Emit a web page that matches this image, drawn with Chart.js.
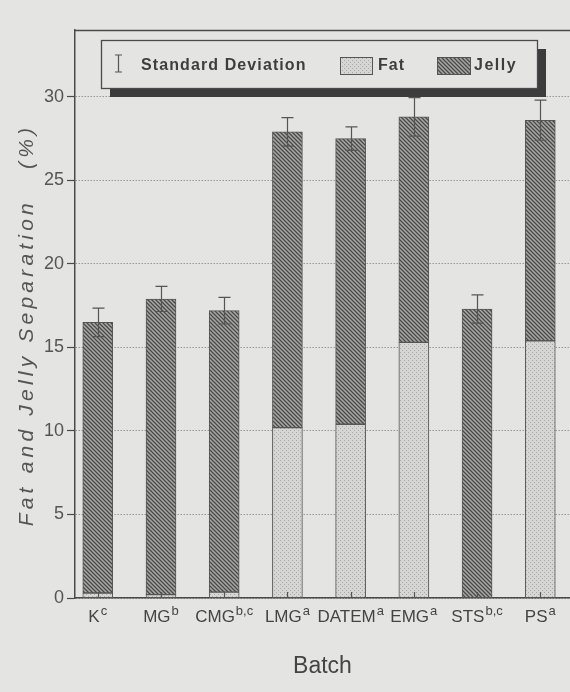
<!DOCTYPE html>
<html>
<head>
<meta charset="utf-8">
<script src="https://cdn.jsdelivr.net/npm/chart.js@4.4.1/dist/chart.umd.min.js"></script>
<style>
  html, body { margin: 0; padding: 0; background: #e4e4e2; }
  #wrap { width: 570px; height: 692px; }
</style>
</head>
<body>
<div id="wrap"><canvas id="c" width="570" height="692"></canvas></div>
<script>
// ---- data ----
const categories   = ['K', 'MG', 'CMG', 'LMG', 'DATEM', 'EMG', 'STS', 'PS'];
const superscripts = ['c', 'b', 'b,c', 'a', 'a', 'a', 'b,c', 'a'];
const fatValues    = [0.3, 0.2, 0.35, 10.2, 10.4, 15.3, 0, 15.4];
const jellyValues  = [16.2, 17.7, 16.85, 17.7, 17.1, 13.5, 17.3, 13.2];
const sdValues     = [0.85, 0.75, 0.8, 0.85, 0.7, 1.15, 0.85, 1.2];
const yTickValues  = [0, 5, 10, 15, 20, 25, 30];
const yTitle = 'Fat and Jelly Separation   (%)';

const INK = '#4a4a4a';
const BG = '#e4e4e2';
const FONT = '"Liberation Sans", Arial, sans-serif';

function makePattern(kind) {
  const c = document.createElement('canvas');
  const s = 4;
  c.width = s; c.height = s;
  const g = c.getContext('2d');
  if (kind === 'jelly') {
    g.fillStyle = '#a8a8a6';
    g.fillRect(0, 0, s, s);
    g.strokeStyle = '#484848';
    g.lineWidth = 1.25;
    g.beginPath();
    g.moveTo(-1, -1); g.lineTo(s + 1, s + 1);
    g.moveTo(-1, s - 1); g.lineTo(1, s + 1);
    g.moveTo(s - 1, -1); g.lineTo(s + 1, 1);
    g.stroke();
  } else {
    g.fillStyle = '#d6d6d4';
    g.fillRect(0, 0, s, s);
    g.fillStyle = '#a8a8a6';
    g.fillRect(0, 0, 1, 1);
    g.fillRect(2, 2, 1, 1);
  }
  return g.createPattern(c, 'repeat');
}
const fatPattern = makePattern('fat');
const jellyPattern = makePattern('jelly');

const bgPlugin = {
  id: 'bg',
  beforeDraw(chart) {
    const ctx = chart.ctx;
    ctx.save();
    ctx.fillStyle = BG;
    ctx.fillRect(0, 0, chart.width, chart.height);
    ctx.restore();
  }
};

const decorPlugin = {
  id: 'decor',
  afterDatasetsDraw(chart) {
    const ctx = chart.ctx;
    const xs = chart.scales.x, ys = chart.scales.y;
    const a = chart.chartArea;
    ctx.save();
    // frame top line
    ctx.strokeStyle = INK;
    ctx.lineWidth = 1.3;
    ctx.beginPath();
    ctx.moveTo(a.left, a.top + 0.5);
    ctx.lineTo(a.right, a.top + 0.5);
    ctx.stroke();

    // error bars on total
    ctx.strokeStyle = '#555';
    ctx.lineWidth = 1.2;
    categories.forEach((c, i) => {
      const total = fatValues[i] + jellyValues[i];
      const x = Math.round(xs.getPixelForValue(i)) + 0.5;
      const yt = ys.getPixelForValue(total + sdValues[i]);
      const yb = ys.getPixelForValue(total - sdValues[i]);
      ctx.beginPath();
      ctx.moveTo(x, yt); ctx.lineTo(x, yb);
      ctx.moveTo(x - 6, yt); ctx.lineTo(x + 6, yt);
      ctx.moveTo(x - 6, yb); ctx.lineTo(x + 6, yb);
      ctx.stroke();
      // x-axis tick mark pointing inward
      const y0 = ys.getPixelForValue(0);
      ctx.beginPath();
      ctx.moveTo(x, y0); ctx.lineTo(x, y0 - 6);
      ctx.stroke();
    });

    // category labels with superscripts
    ctx.fillStyle = '#444';
    ctx.textBaseline = 'alphabetic';
    const baseFont = '17px ' + FONT;
    const supFont = '13px ' + FONT;
    const ly = ys.getPixelForValue(0) + 24;
    categories.forEach((c, i) => {
      ctx.font = baseFont;
      const wb = ctx.measureText(c).width;
      ctx.font = supFont;
      const ws = ctx.measureText(superscripts[i]).width;
      const cx = xs.getPixelForValue(i);
      const x0 = cx - (wb + ws + 1) / 2;
      ctx.font = baseFont;
      ctx.textAlign = 'left';
      ctx.fillText(c, x0, ly);
      ctx.font = supFont;
      ctx.fillText(superscripts[i], x0 + wb + 1, ly - 7);
    });

    // y-axis title (rotated, letter-spaced)
    ctx.save();
    ctx.translate(27, 325);
    ctx.rotate(-Math.PI / 2);
    ctx.fillStyle = '#555';
    ctx.font = 'italic 21px ' + FONT;
    ctx.textAlign = 'center';
    ctx.textBaseline = 'middle';
    try { ctx.letterSpacing = '4.2px'; } catch (e) {}
    ctx.fillText(yTitle, 0, 0);
    ctx.restore();

    // legend box
    const bx = 101, by = 40, bw = 436, bh = 48;
    ctx.fillStyle = '#3c3c3c';
    ctx.fillRect(bx + 9, by + 9, bw, bh);
    ctx.fillStyle = BG;
    ctx.fillRect(bx, by, bw, bh);
    ctx.strokeStyle = INK;
    ctx.lineWidth = 1.3;
    ctx.strokeRect(bx + 0.5, by + 0.5, bw, bh);

    const my = by + bh / 2 + 2;
    // SD symbol
    ctx.strokeStyle = '#555';
    ctx.lineWidth = 1.2;
    ctx.beginPath();
    ctx.moveTo(118.5, my - 11); ctx.lineTo(118.5, my + 6);
    ctx.moveTo(115, my - 11); ctx.lineTo(122, my - 11);
    ctx.moveTo(115, my + 6); ctx.lineTo(122, my + 6);
    ctx.stroke();

    ctx.fillStyle = '#3e3e3e';
    ctx.font = 'bold 16px ' + FONT;
    ctx.textAlign = 'left';
    ctx.textBaseline = 'middle';
    try { ctx.letterSpacing = '1.1px'; } catch (e) {}
    ctx.fillText('Standard Deviation', 141, my);

    // fat swatch
    ctx.fillStyle = fatPattern;
    ctx.fillRect(340, my - 9, 32, 17);
    ctx.strokeStyle = '#555';
    ctx.lineWidth = 1;
    ctx.strokeRect(340.5, my - 8.5, 32, 17);
    ctx.fillStyle = '#3e3e3e';
    ctx.fillText('Fat', 378, my);

    // jelly swatch
    ctx.fillStyle = jellyPattern;
    ctx.fillRect(437, my - 9, 33, 17);
    ctx.strokeRect(437.5, my - 8.5, 33, 17);
    ctx.fillStyle = '#3e3e3e';
    try { ctx.letterSpacing = '1.5px'; } catch (e) {}
    ctx.fillText('Jelly', 474, my);
    ctx.restore();
  }
};

const ctx = document.getElementById('c').getContext('2d');
new Chart(ctx, {
  type: 'bar',
  data: {
    datasets: [
      {
        label: 'Fat',
        data: categories.map((c, i) => ({ x: i, y: fatValues[i] })),
        backgroundColor: fatPattern,
        borderColor: '#555',
        borderWidth: 1,
        borderSkipped: false,
        barThickness: 30
      },
      {
        label: 'Jelly',
        data: categories.map((c, i) => ({ x: i, y: jellyValues[i] })),
        backgroundColor: jellyPattern,
        borderColor: '#555',
        borderWidth: 1,
        borderSkipped: false,
        barThickness: 30
      }
    ]
  },
  options: {
    responsive: false,
    animation: false,
    devicePixelRatio: 1,
    layout: { padding: { top: 30, right: 0, left: 0, bottom: 0 } },
    plugins: {
      legend: { display: false },
      tooltip: { enabled: false }
    },
    scales: {
      x: {
        type: 'linear',
        stacked: true,
        offset: false,
        min: -0.36,
        max: 7.47,
        grid: { display: false },
        border: { display: true, color: INK, width: 1.5 },
        ticks: { display: false },
        title: {
          display: true,
          text: 'Batch',
          color: '#444',
          font: { family: FONT, size: 23 },
          padding: { top: 0, bottom: 12 }
        },
        afterFit(scale) { scale.height = 94; }
      },
      y: {
        stacked: true,
        min: 0,
        max: 34,
        afterBuildTicks(scale) { scale.ticks = yTickValues.map(v => ({ value: v })); },
        grid: {
          color: '#8e8e8c',
          lineWidth: 0.9,
          drawTicks: true,
          tickLength: 8,
          tickColor: INK,
          tickWidth: 1.2
        },
        border: { display: true, color: INK, width: 1.5, dash: [1.5, 1.5] },
        ticks: {
          color: '#555',
          padding: 3,
          font: { family: FONT, size: 18 }
        },
        title: { display: false },
        afterFit(scale) { scale.width = 75; }
      }
    }
  },
  plugins: [bgPlugin, decorPlugin]
});
</script>
</body>
</html>
